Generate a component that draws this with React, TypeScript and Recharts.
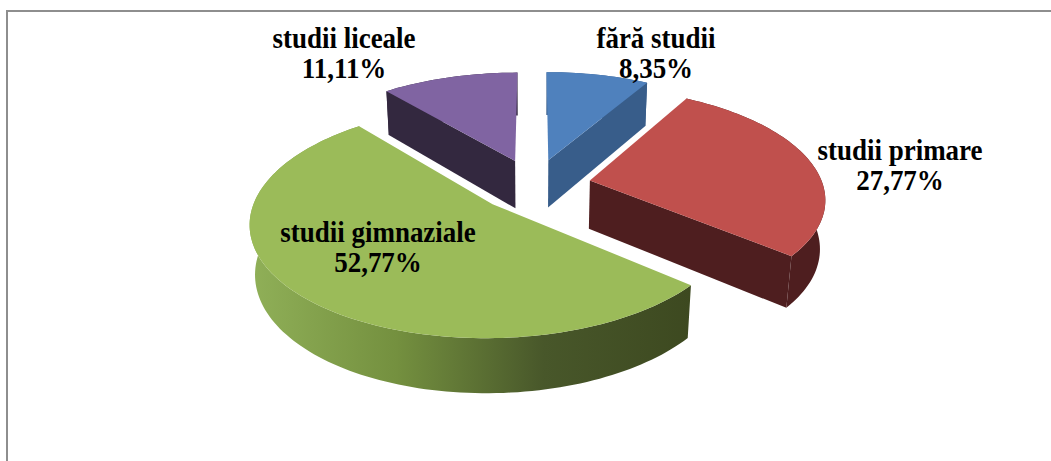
import React from 'react';
import { PieChart, Pie } from 'recharts';

// ---- data ----
const categories = ['fără studii', 'studii primare', 'studii gimnaziale', 'studii liceale'];
const shares = [8.35, 27.77, 52.77, 11.11];

// ---- styles ----
const topColors = ['#4F81BD', '#C0504D', '#9BBB59', '#8064A2'];
const sideColors = ['#385D8A', '#4E1E1F', '#3F4C22', '#33283F'];
const wallGradients: (string[] | null)[] = [null, null, ['#90B058', '#74903F', '#48572A', '#3D4920'], null];

const data = categories.map((name, i) => ({ name, value: shares[i] }));

// ---- 3D layout ----
const TILT = (27.6 * Math.PI) / 180;
const CAMERA = 6; // camera distance in radii
const EXPLODE = 0.245;
const THICK = 0.239;
const CENTER_X = 529;
const CENTER_Y = 180;
const RADIUS = 233;
// label anchor offsets from the pie centre (first baseline)
const labelOffsets = [
  [122, -137],
  [366, -25],
  [-156, 57],
  [-190, -137],
];
const LINE_GAP = 30;
const TEXT_SCALE_X = 0.9;

const toPath = (pts: number[][]) => 'M' + pts.map((p) => p[0].toFixed(2) + ',' + p[1].toFixed(2)).join('L') + 'Z';

const renderSlice = (props: any) => {
  const { cx, cy, outerRadius, startAngle, endAngle, index, name, value } = props;
  const t1 = 90 - startAngle;
  const t2 = 90 - endAngle;
  const a = Math.min(t1, t2);
  const b = Math.max(t1, t2);
  const tm = ((a + b) / 2) * (Math.PI / 180);
  const ox = EXPLODE * Math.sin(tm);
  const oz = EXPLODE * Math.cos(tm);
  const cosA = Math.cos(TILT);
  const sinA = Math.sin(TILT);
  const proj = (X: number, Y: number, Z: number) => {
    const yc = Y * cosA + Z * sinA;
    const zc = CAMERA + Z * cosA - Y * sinA;
    const f = CAMERA / zc;
    return [cx + outerRadius * X * f, cy - outerRadius * yc * f];
  };
  const rim = (deg: number, Y: number) => {
    const r = (deg * Math.PI) / 180;
    return proj(ox + Math.sin(r), Y, oz + Math.cos(r));
  };
  const n = Math.max(2, Math.ceil((b - a) / 1.5));
  const angles: number[] = [];
  for (let k = 0; k <= n; k++) angles.push(a + ((b - a) * k) / n);
  const topArc = angles.map((d) => rim(d, 0));
  const botArc = angles.map((d) => rim(d, -THICK)).reverse();
  const apexTop = proj(ox, 0, oz);
  const apexBot = proj(ox, -THICK, oz);

  const wall = toPath([...topArc, ...botArc]);
  const top = toPath([apexTop, ...topArc]);
  const walls: string[] = [];
  if (Math.sin((a * Math.PI) / 180) < -1e-6) walls.push(toPath([apexTop, rim(a, 0), rim(a, -THICK), apexBot]));
  if (Math.sin((b * Math.PI) / 180) > 1e-6) walls.push(toPath([apexTop, rim(b, 0), rim(b, -THICK), apexBot]));

  const grad = wallGradients[index];
  const gid = 'wallgrad-' + index;
  let wallFill = sideColors[index];
  let defs = null;
  if (grad) {
    const xs = [...topArc, ...botArc].map((p) => p[0]);
    const x1 = Math.min(...xs);
    const x2 = Math.max(...xs);
    defs = (
      <defs>
        <linearGradient id={gid} gradientUnits="userSpaceOnUse" x1={x1} y1={0} x2={x2} y2={0}>
          {grad.map((c, i) => (
            <stop key={i} offset={i / (grad.length - 1)} stopColor={c} />
          ))}
        </linearGradient>
      </defs>
    );
    wallFill = `url(#${gid})`;
  }

  const lx = cx + labelOffsets[index][0];
  const ly = cy + labelOffsets[index][1];
  const pct = value.toFixed(2).replace('.', ',') + '%';

  return (
    <g key={'slice-' + index}>
      {defs}
      <path d={wall} fill={wallFill} stroke="none" />
      {walls.map((d, i) => (
        <path key={i} d={d} fill={sideColors[index]} stroke="none" />
      ))}
      <path d={top} fill={topColors[index]} stroke="none" />
      <text
        transform={`translate(${lx},${ly}) scale(${TEXT_SCALE_X},1)`}
        textAnchor="middle"
        fontFamily="'Liberation Serif', 'Times New Roman', serif"
        fontWeight="bold"
        fontSize={30}
        fill="#000"
      >
        <tspan x={0} y={0}>{name}</tspan>
        <tspan x={0} y={LINE_GAP}>{pct}</tspan>
      </text>
    </g>
  );
};

export default function App() {
  return (
    <div style={{ position: 'absolute', left: 0, top: 0, width: 1051, height: 461, background: '#fff', overflow: 'hidden' }}>
      <div
        style={{
          position: 'absolute',
          left: 6,
          top: 10,
          width: 1100,
          height: 500,
          borderLeft: '2px solid #8e8e8e',
          borderTop: '2px solid #8e8e8e',
        }}
      />
      <div style={{ position: 'absolute', left: 0, top: 0 }}>
        <PieChart width={1051} height={461}>
          <Pie
            data={data}
            dataKey="value"
            nameKey="name"
            cx={CENTER_X}
            cy={CENTER_Y}
            innerRadius={0}
            outerRadius={RADIUS}
            startAngle={90}
            endAngle={-270}
            fill="none"
            stroke="none"
            label={renderSlice}
            labelLine={false}
            isAnimationActive={false}
          />
        </PieChart>
      </div>
    </div>
  );
}
